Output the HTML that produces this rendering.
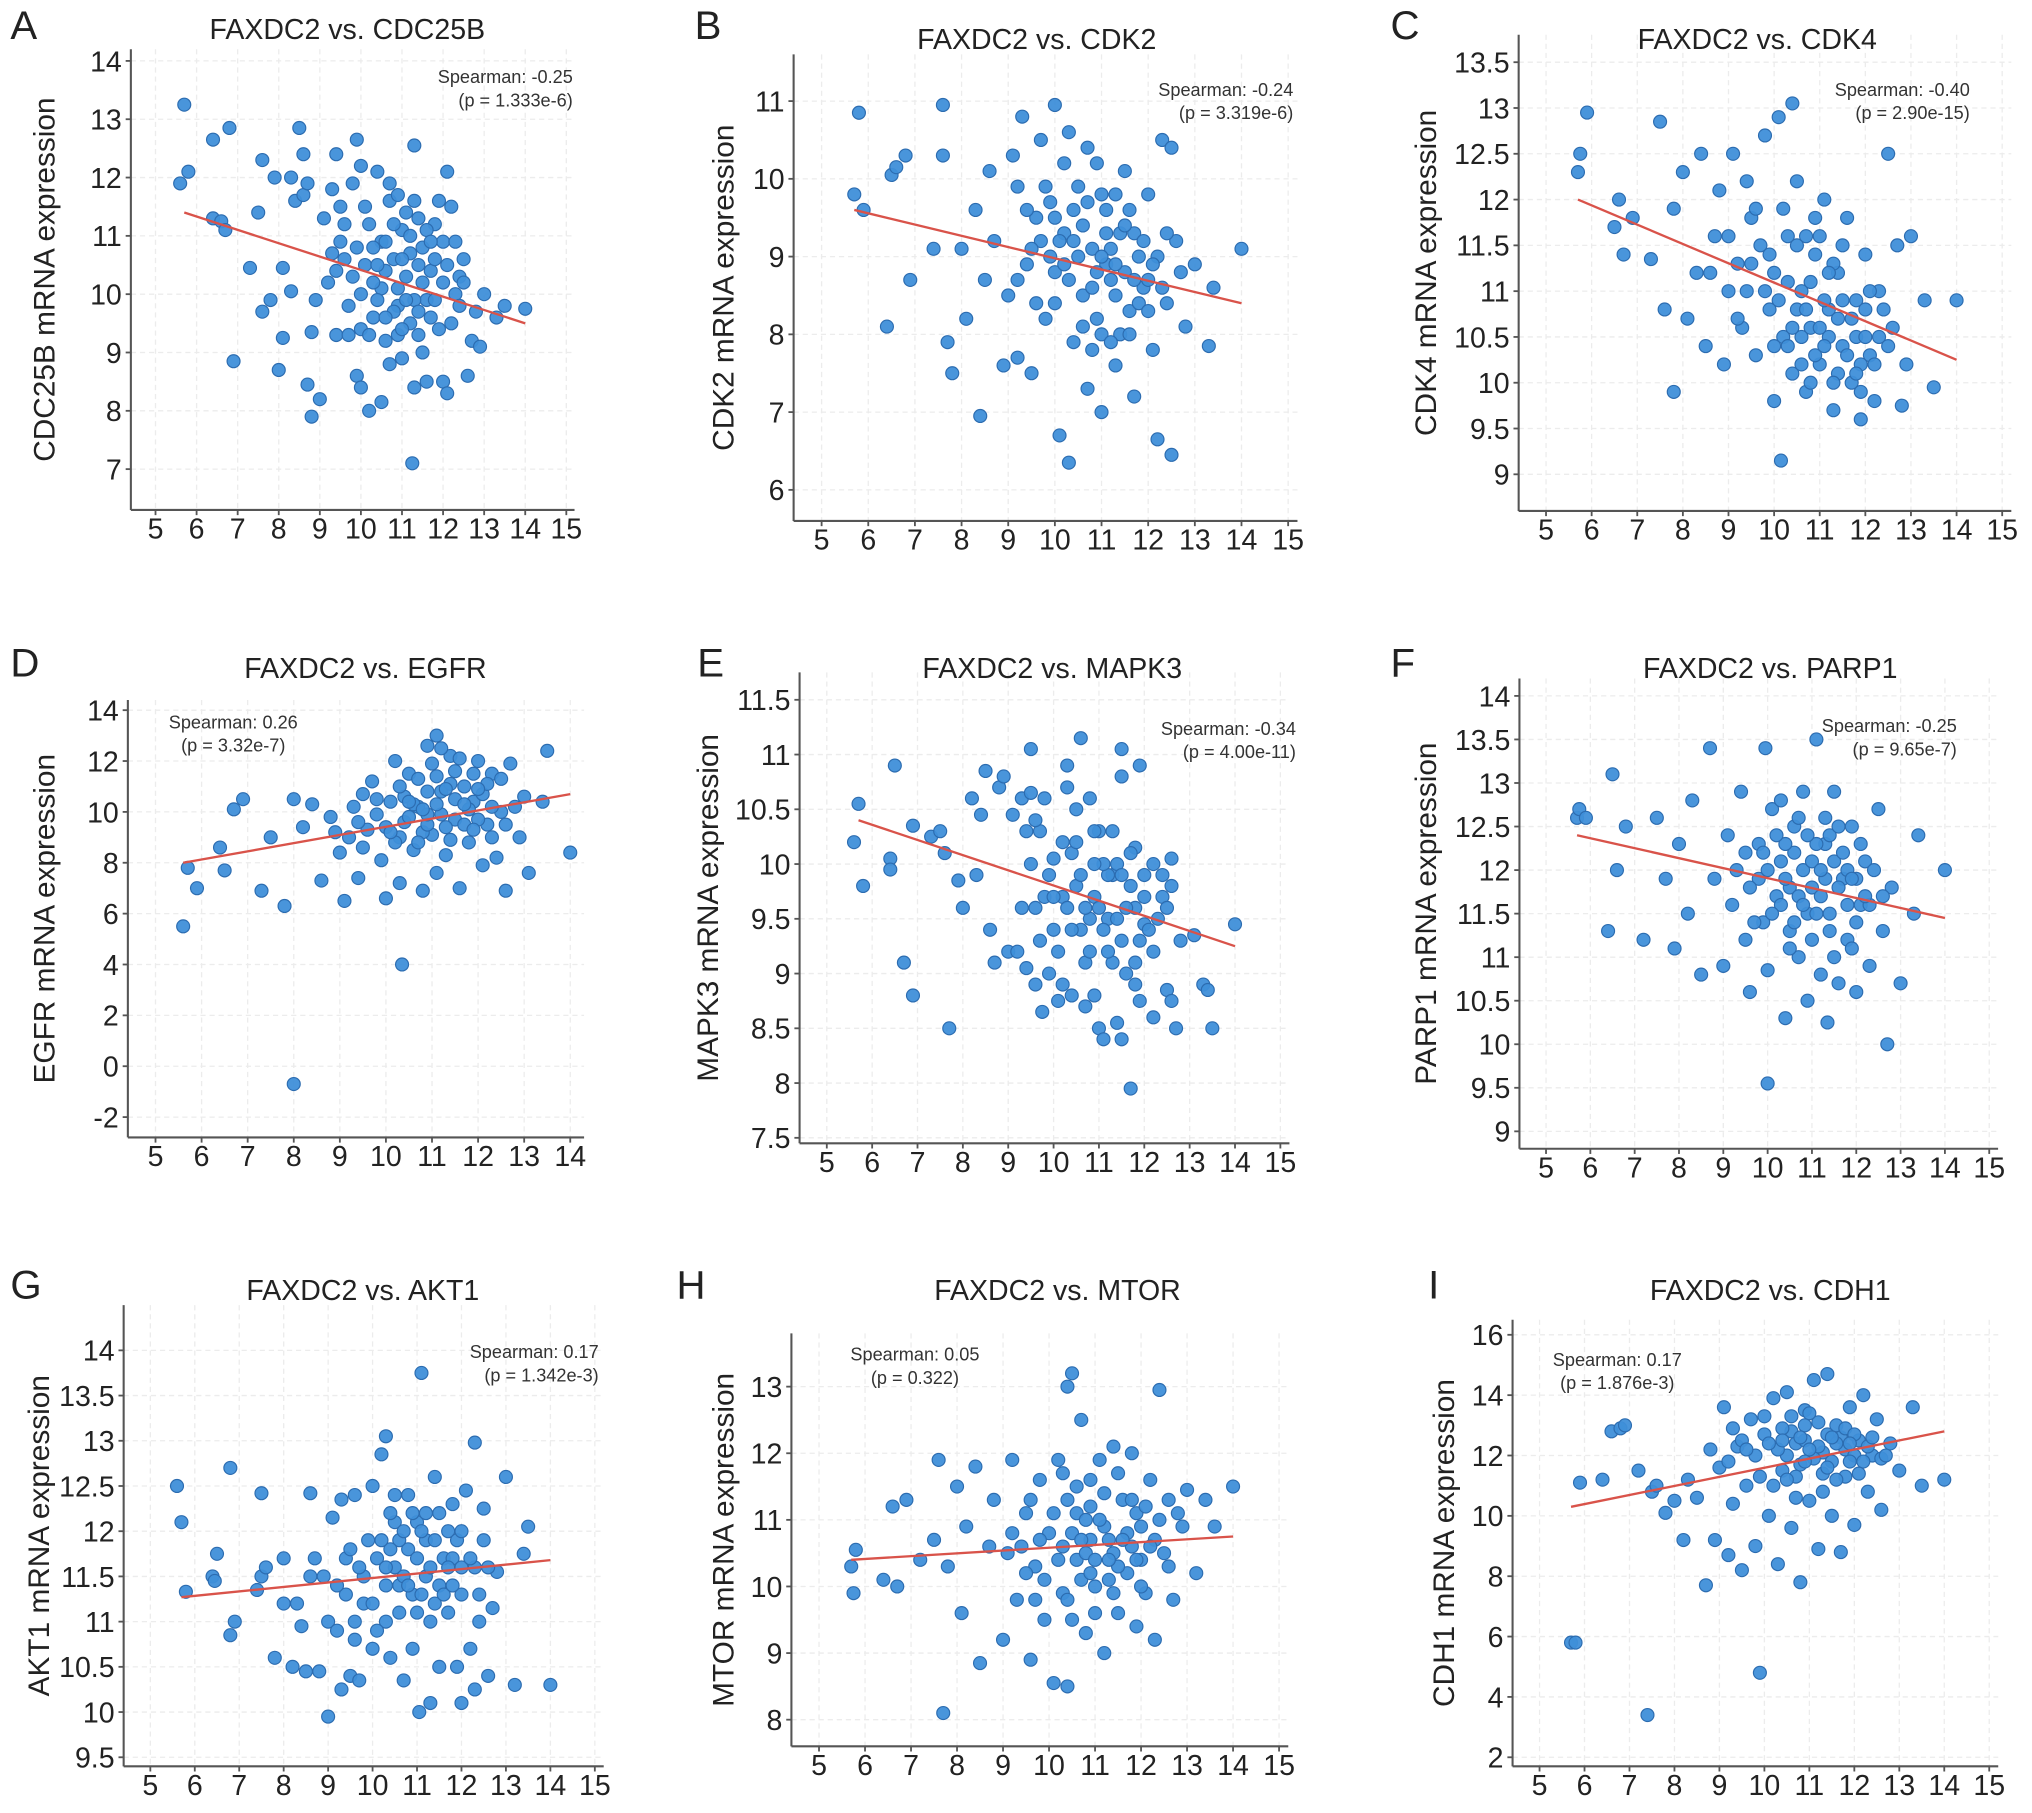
<!DOCTYPE html>
<html><head><meta charset="utf-8">
<style>
html,body{margin:0;padding:0;background:#fff;}
svg{display:block;}
text{font-family:"Liberation Sans",sans-serif;fill:#222;}
.tick{font-size:22px;}
.ttl{font-size:22px;}
.ytitle{font-size:23px;}
.sp{font-size:14px;fill:#333;}
.let{font-size:31px;}
</style></head>
<body>
<svg id="fig" width="2032" height="1813" viewBox="0 0 1568 1399" xmlns="http://www.w3.org/2000/svg"></svg>
<script>
// ---------- data ----------
const aPts=[[5.7,13.25],[5.6,11.9],[5.8,12.1],[6.4,12.65],[6.8,12.85],[6.4,11.3],[6.6,11.25],[6.7,11.1],[6.9,8.85],[7.3,10.45],[7.5,11.4],[7.6,12.3],[7.6,9.7],[7.8,9.9],[7.9,12],[8,8.7],[8.1,10.45],[8.1,9.25],[8.3,12],[8.3,10.05],[8.4,11.6],[8.5,12.85],[8.6,12.4],[8.6,11.7],[8.7,11.9],[8.7,8.45],[8.8,7.9],[8.8,9.35],[8.9,9.9],[9,8.2],[9.1,11.3],[9.2,10.2],[9.3,11.8],[9.4,12.4],[9.4,9.3],[9.5,11.5],[9.6,10.6],[9.7,9.8],[9.8,11.9],[9.9,12.65],[9.9,8.6],[10,12.2],[10,8.4],[10,9.4],[10.1,10.5],[10.2,11.2],[10.2,8],[10.3,9.6],[10.4,12.1],[10.5,10.1],[10.5,8.15],[10.6,9.2],[10.7,11.6],[10.7,8.8],[10.8,10.6],[10.9,9.8],[11,11.1],[11,8.9],[11.1,10.3],[11.2,9.5],[11.25,7.1],[11.3,8.4],[11.3,12.55],[11.4,11.3],[11.5,10.8],[11.6,9.9],[11.6,8.5],[11.7,10.4],[11.8,11.2],[11.9,9.4],[12,8.5],[12,10.9],[12.1,12.1],[12.1,8.3],[12.2,11.5],[12.3,10],[12.4,9.8],[12.5,10.6],[12.6,8.6],[12.7,9.2],[12.8,9.7],[12.9,9.1],[13,10],[13.3,9.6],[13.5,9.8],[14,9.75],[10.5,10.9],[10.8,11.2],[11.2,10.7],[11.5,10.2],[10.9,10.1],[11.3,9.9],[10.6,10.4],[11.8,10.6],[11.1,11.4],[10.3,10.8],[11.7,9.6],[12,10.2],[10.4,9.9],[11.4,9.3],[10.7,11.9],[9.8,10.3],[9.5,10.9],[12.3,10.9],[11.9,11.6],[10.9,9.3]];
const aDense=[[9.3,10.7],[9.6,11.2],[9.9,10.8],[10.1,11.5],[10.3,10.2],[10.6,10.9],[10.8,9.7],[11.0,10.6],[11.2,11.0],[11.4,10.5],[11.6,11.1],[11.8,9.9],[12.1,10.5],[12.4,10.3],[10.2,9.3],[10.6,9.6],[11.0,9.4],[11.4,9.7],[9.7,9.3],[9.4,10.4],[10.9,11.7],[11.3,11.6],[11.7,10.9],[12.2,9.5],[10.4,10.5],[11.1,9.9],[10.0,10.0],[11.5,9.0],[12.5,10.2]];
const bPts=[[5.7,9.8],[5.8,10.85],[5.9,9.6],[6.4,8.1],[6.5,10.05],[6.6,10.15],[6.8,10.3],[6.9,8.7],[7.4,9.1],[7.6,10.95],[7.6,10.3],[7.7,7.9],[7.8,7.5],[8,9.1],[8.1,8.2],[8.3,9.6],[8.4,6.95],[8.5,8.7],[8.6,10.1],[8.7,9.2],[8.9,7.6],[9,8.5],[9.1,10.3],[9.2,7.7],[9.2,9.9],[9.3,10.8],[9.4,8.9],[9.5,7.5],[9.6,9.5],[9.7,10.5],[9.8,8.2],[9.9,9.7],[10,10.95],[10,8.8],[10.1,6.7],[10.2,9.3],[10.3,6.35],[10.3,10.6],[10.4,7.9],[10.5,9.9],[10.6,8.5],[10.7,7.3],[10.8,9.1],[10.9,10.2],[11,8.0],[11,7.0],[11.1,9.6],[11.2,8.7],[11.3,7.6],[11.4,9.3],[11.5,10.1],[11.6,8.3],[11.7,7.2],[11.8,9.0],[11.9,8.6],[12,9.8],[12.1,7.8],[12.2,6.65],[12.3,10.5],[12.4,8.4],[12.5,6.45],[12.5,10.4],[12.6,9.2],[12.8,8.1],[13,8.9],[13.3,7.85],[13.4,8.6],[14,9.1],[10.5,9.0],[10.8,8.6],[11.2,9.1],[11.5,8.8],[10.9,8.2],[11.3,8.5],[10.6,9.4],[11.8,8.4],[11.1,8.9],[10.3,8.7],[11.7,9.3],[12,8.7],[10.4,9.6],[11.4,8.0],[9.9,9.0],[9.6,8.4],[12.2,9.0],[11,9.8],[10.1,9.2],[11.6,9.6]];
const bDense=[[9.4,9.6],[9.7,9.2],[10.0,9.5],[10.2,8.9],[10.4,9.2],[10.7,9.7],[10.9,8.8],[11.1,9.3],[11.3,8.9],[11.5,9.4],[11.7,8.7],[11.9,9.2],[12.1,8.9],[12.3,8.6],[10.6,8.1],[10.8,7.8],[11.2,7.9],[11.6,8.0],[9.8,9.9],[10.2,10.2],[10.7,10.4],[11.3,9.8],[12.4,9.3],[12.7,8.8],[9.2,8.7],[9.5,9.1],[10.0,8.4],[11.0,9.0],[12.0,8.3]];
const cPts=[[5.7,12.3],[5.75,12.5],[5.9,12.95],[6.5,11.7],[6.6,12],[6.7,11.4],[6.9,11.8],[7.3,11.35],[7.5,12.85],[7.6,10.8],[7.8,11.9],[7.8,9.9],[8,12.3],[8.1,10.7],[8.3,11.2],[8.4,12.5],[8.5,10.4],[8.7,11.6],[8.8,12.1],[8.9,10.2],[9,11.0],[9.1,12.5],[9.2,11.3],[9.3,10.6],[9.4,12.2],[9.5,11.8],[9.6,10.3],[9.7,11.5],[9.8,12.7],[9.9,10.8],[10,9.8],[10,11.2],[10.1,12.9],[10.15,9.15],[10.2,10.5],[10.3,11.6],[10.4,13.05],[10.4,10.1],[10.5,12.2],[10.6,11.0],[10.7,9.9],[10.8,10.6],[10.9,11.4],[11,10.2],[11.1,12.0],[11.2,10.8],[11.3,9.7],[11.4,11.2],[11.5,10.4],[11.6,11.8],[11.7,10.0],[11.8,10.9],[11.9,9.6],[12,11.4],[12.1,10.3],[12.2,9.8],[12.3,11.0],[12.5,12.5],[12.6,10.6],[12.7,11.5],[12.8,9.75],[12.9,10.2],[13,11.6],[13.3,10.9],[13.5,9.95],[14,10.9],[10.5,10.8],[10.8,11.1],[11.2,10.5],[11.5,10.9],[10.9,10.3],[11.3,11.3],[10.6,10.5],[11.8,10.5],[11.1,10.9],[10.3,11.1],[11.7,10.7],[12,10.8],[10.4,10.6],[11.4,10.1],[10.7,11.6],[9.8,11.0],[9.5,11.3],[12.3,10.5],[11.9,10.2],[10.9,11.8]];
const cDense=[[9.6,11.9],[9.9,11.4],[10.1,10.9],[10.3,10.4],[10.6,10.2],[10.8,10.0],[11.0,10.6],[11.2,11.2],[11.4,10.7],[11.6,10.3],[11.8,10.1],[12.0,10.5],[12.2,10.2],[12.4,10.8],[10.2,11.9],[10.5,11.5],[11.0,11.6],[11.5,11.5],[9.4,11.0],[9.2,10.7],[10.7,10.8],[11.3,10.0],[11.9,9.9],[12.5,10.4],[11.1,10.4],[10.0,10.4],[12.1,11.0],[9.0,11.6],[8.6,11.2]];
const dPts=[[5.6,5.5],[5.7,7.8],[5.9,7],[6.4,8.6],[6.5,7.7],[6.7,10.1],[6.9,10.5],[7.3,6.9],[7.5,9.0],[7.8,6.3],[8.0,-0.7],[8,10.5],[8.2,9.4],[8.4,10.3],[8.6,7.3],[8.8,9.8],[9,8.4],[9.1,6.5],[9.3,10.2],[9.4,7.4],[9.6,9.3],[9.7,11.2],[9.9,8.1],[10,6.6],[10.1,10.4],[10.2,12.0],[10.3,7.2],[10.35,4.0],[10.4,9.6],[10.5,11.5],[10.6,8.5],[10.7,10.2],[10.8,6.9],[10.9,12.6],[11,9.1],[11.1,13.0],[11.1,7.6],[11.2,10.8],[11.3,8.3],[11.4,12.2],[11.5,9.7],[11.6,7.0],[11.7,11.0],[11.8,8.8],[11.9,10.4],[12,12.0],[12.1,7.9],[12.2,9.5],[12.3,11.5],[12.4,8.2],[12.5,10.0],[12.6,6.9],[12.7,11.9],[12.9,9.0],[13,10.6],[13.1,7.6],[13.4,10.4],[13.5,12.4],[14,8.4],[10.5,9.8],[10.8,9.2],[11.2,9.9],[11.5,10.5],[10.9,10.8],[11.3,9.4],[10.6,10.3],[11.8,10.1],[11.1,11.4],[10.3,9.0],[11.7,9.5],[12,9.7],[10.4,10.6],[11.4,11.1],[10.7,8.8],[9.8,9.9],[9.5,10.7],[12.3,10.2],[11.9,11.5],[10.9,9.5]];
const dDense=[[9.2,9.0],[9.5,8.6],[9.8,10.5],[10.0,9.4],[10.2,8.8],[10.5,10.4],[10.7,11.3],[10.9,9.9],[11.1,10.3],[11.3,10.9],[11.5,11.6],[11.7,10.3],[11.9,9.3],[12.1,10.7],[12.3,9.0],[12.5,11.3],[12.8,10.2],[10.3,11.0],[11.0,11.9],[11.6,12.1],[12.2,11.1],[10.1,9.2],[11.4,8.9],[10.8,10.1],[12.6,9.5],[9.4,9.6],[8.9,9.2],[11.2,12.5],[12.0,10.9]];
const ePts=[[5.6,10.2],[5.7,10.55],[5.8,9.8],[6.4,10.05],[6.4,9.95],[6.5,10.9],[6.7,9.1],[6.9,8.8],[6.9,10.35],[7.3,10.25],[7.5,10.3],[7.6,10.1],[7.7,8.5],[7.9,9.85],[8.0,9.6],[8.2,10.6],[8.3,9.9],[8.4,10.45],[8.5,10.85],[8.6,9.4],[8.7,9.1],[8.8,10.7],[8.9,10.8],[9,9.2],[9.1,10.45],[9.2,9.2],[9.3,10.6],[9.4,9.05],[9.5,10.65],[9.5,11.05],[9.6,8.9],[9.7,10.3],[9.75,8.65],[9.8,10.6],[9.9,9.0],[10,10.05],[10.1,8.75],[10.2,9.7],[10.3,10.9],[10.3,10.7],[10.4,8.8],[10.5,10.5],[10.6,11.15],[10.7,8.7],[10.8,10.6],[10.9,8.8],[11,10.3],[11,8.5],[11.1,8.4],[11.2,9.5],[11.3,9.9],[11.4,8.55],[11.5,10.8],[11.5,11.05],[11.5,8.4],[11.7,7.95],[11.6,9.0],[11.8,10.15],[11.9,10.9],[11.9,8.75],[12,9.45],[12.1,9.4],[12.2,8.6],[12.4,9.9],[12.5,8.85],[12.6,10.05],[12.6,8.75],[12.7,8.5],[12.8,9.3],[13.1,9.35],[13.3,8.9],[13.4,8.85],[13.5,8.5],[14,9.45],[10.5,9.8],[10.8,9.5],[11.2,9.9],[11.5,9.3],[10.9,9.7],[11.3,9.1],[10.6,9.4],[11.8,9.6],[11.1,10.0],[10.3,9.6],[11.7,9.8],[12,9.9],[10.4,10.1],[11.4,9.5],[10.7,9.1],[9.8,9.7],[9.5,10.0],[12.3,9.5],[11.9,9.3],[10.9,10.3],[12.4,9.7],[12.6,9.8],[10,9.4],[9.6,9.6]];
const eDense=[[9.3,9.6],[9.7,9.3],[9.9,9.9],[10.1,9.2],[10.2,10.2],[10.4,9.4],[10.6,9.9],[10.8,9.2],[11.0,9.6],[11.2,9.2],[11.4,10.0],[11.6,9.6],[11.8,9.1],[12.0,9.7],[12.2,9.2],[10.5,10.2],[10.9,10.0],[11.3,10.3],[11.7,10.1],[10.0,9.7],[9.4,10.3],[10.7,9.6],[11.1,9.4],[11.5,9.9],[12.5,9.6],[9.6,10.4],[10.2,8.9],[11.8,8.9],[12.2,10.0]];
const fPts=[[5.7,12.6],[5.75,12.7],[5.9,12.6],[6.4,11.3],[6.5,13.1],[6.6,12.0],[6.8,12.5],[7.2,11.2],[7.5,12.6],[7.7,11.9],[7.9,11.1],[8.0,12.3],[8.2,11.5],[8.3,12.8],[8.5,10.8],[8.7,13.4],[8.8,11.9],[9,10.9],[9.1,12.4],[9.2,11.6],[9.4,12.9],[9.5,11.2],[9.6,10.6],[9.8,12.3],[9.9,11.4],[9.95,13.4],[10.0,9.55],[10,10.85],[10.1,12.7],[10.2,11.7],[10.3,12.1],[10.4,10.3],[10.5,11.3],[10.6,12.5],[10.7,11.0],[10.8,12.9],[10.9,10.5],[11,11.8],[11.1,13.5],[11.2,10.8],[11.3,12.3],[11.35,10.25],[11.4,11.5],[11.5,12.9],[11.6,10.7],[11.7,11.9],[11.8,11.2],[11.9,12.5],[12,10.6],[12.1,11.6],[12.2,12.1],[12.3,10.9],[12.5,12.7],[12.6,11.3],[12.7,10.0],[12.8,11.8],[13,10.7],[13.3,11.5],[13.4,12.4],[14,12.0],[10.5,11.8],[10.8,12.0],[11.2,11.7],[11.5,12.1],[10.9,11.5],[11.3,11.9],[10.6,12.2],[11.8,11.6],[11.1,12.3],[10.3,11.6],[11.7,12.2],[12,11.9],[10.4,12.3],[11.4,11.3],[10.7,11.7],[9.8,11.9],[9.5,12.2],[12.3,11.6],[11.9,11.1],[10.9,12.4]];
const fDense=[[9.3,12.0],[9.6,11.8],[9.9,12.2],[10.1,11.5],[10.2,12.4],[10.4,11.9],[10.6,11.4],[10.8,11.6],[11.0,12.1],[11.2,12.0],[11.4,12.4],[11.6,11.8],[11.8,12.0],[12.0,11.4],[12.2,11.7],[12.4,12.0],[10.5,11.1],[11.0,11.2],[11.5,11.0],[11.9,11.9],[10.7,12.6],[11.3,12.6],[9.7,11.4],[10.0,12.0],[12.6,11.7],[11.6,12.5],[10.3,12.8],[11.1,11.5],[12.1,12.3]];
const gPts=[[5.6,12.5],[5.7,12.1],[5.8,11.33],[6.4,11.5],[6.45,11.45],[6.5,11.75],[6.8,12.7],[6.8,10.85],[6.9,11.0],[7.4,11.35],[7.5,11.5],[7.5,12.42],[7.6,11.6],[7.8,10.6],[8,11.2],[8,11.7],[8.2,10.5],[8.3,11.2],[8.4,10.95],[8.5,10.45],[8.6,11.5],[8.6,12.42],[8.7,11.7],[8.8,10.45],[8.9,11.5],[9.0,9.95],[9,11.0],[9.1,12.15],[9.2,10.9],[9.3,12.35],[9.3,10.25],[9.4,11.7],[9.5,10.4],[9.6,12.4],[9.6,11.0],[9.7,10.35],[9.8,11.2],[10,12.5],[10,10.7],[10.1,11.7],[10.2,12.85],[10.3,13.05],[10.3,11.0],[10.4,10.6],[10.5,12.1],[10.6,11.4],[10.7,10.35],[10.8,12.4],[10.9,10.7],[11,12.1],[11.05,10.0],[11.1,13.75],[11.2,11.5],[11.3,10.1],[11.4,12.6],[11.5,10.5],[11.6,11.7],[11.7,11.1],[11.8,12.3],[11.9,10.5],[12,10.1],[12,11.3],[12.1,12.45],[12.2,10.7],[12.3,10.25],[12.3,12.98],[12.4,11.0],[12.5,12.25],[12.6,10.4],[12.7,11.15],[12.8,11.55],[13,12.6],[13.2,10.3],[13.4,11.75],[13.5,12.05],[14,10.3],[10.5,11.6],[10.8,11.8],[11.2,11.9],[11.5,11.4],[10.9,11.3],[11.3,11.6],[10.6,11.9],[11.8,11.7],[11.1,12.0],[10.3,11.4],[11.7,12.0],[12,11.6],[10.4,11.8],[11.4,11.2],[10.7,11.5],[9.8,11.5],[9.5,11.8],[12.3,11.6],[11.9,11.9],[10.9,12.2]];
const gDense=[[9.4,11.3],[9.7,11.6],[10.0,11.2],[10.2,11.9],[10.4,12.2],[10.6,11.1],[10.8,11.4],[11.0,11.7],[11.2,12.2],[11.4,11.9],[11.6,11.3],[11.8,11.4],[12.0,12.0],[12.2,11.7],[12.4,11.3],[10.5,12.4],[11.0,11.1],[11.5,12.2],[9.9,11.9],[9.2,11.4],[10.1,10.9],[11.3,11.0],[12.5,11.9],[11.7,11.6],[10.7,12.0],[12.6,11.6],[9.6,10.8],[11.1,11.3],[10.3,11.6]];
const hPts=[[5.7,10.3],[5.75,9.9],[5.8,10.55],[6.4,10.1],[6.6,11.2],[6.7,10.0],[6.9,11.3],[7.2,10.4],[7.5,10.7],[7.6,11.9],[7.7,8.1],[7.8,10.3],[8.0,11.5],[8.1,9.6],[8.2,10.9],[8.4,11.8],[8.5,8.85],[8.7,10.6],[8.8,11.3],[9,9.2],[9.1,10.5],[9.2,11.9],[9.3,9.8],[9.5,11.1],[9.6,8.9],[9.7,10.3],[9.8,11.6],[9.9,9.5],[10,10.8],[10.1,8.55],[10.2,11.9],[10.3,9.9],[10.4,8.5],[10.4,13.0],[10.5,13.2],[10.6,10.4],[10.7,12.5],[10.8,9.3],[10.9,11.2],[11,10.0],[11.1,11.9],[11.2,9.0],[11.3,10.7],[11.4,12.1],[11.5,9.6],[11.6,11.3],[11.7,10.2],[11.8,12.0],[11.9,9.4],[12,10.9],[12.1,9.9],[12.2,11.6],[12.3,9.2],[12.4,12.95],[12.5,10.5],[12.6,11.3],[12.7,9.8],[12.9,10.9],[13,11.45],[13.2,10.2],[13.4,11.3],[13.6,10.9],[14,11.5],[10.5,10.8],[10.8,10.5],[11.2,10.9],[11.5,10.3],[10.9,10.7],[11.3,10.1],[10.6,11.1],[11.8,10.6],[11.1,11.0],[10.3,10.6],[11.7,10.8],[12,10.4],[10.4,11.3],[11.4,10.5],[10.7,10.1],[9.8,10.7],[9.5,10.2],[12.3,10.7],[11.9,11.1],[10.9,10.2]];
const hDense=[[9.4,10.6],[9.6,11.3],[9.9,10.1],[10.1,11.1],[10.2,10.4],[10.4,9.8],[10.6,11.5],[10.8,11.0],[11.0,10.4],[11.2,11.4],[11.4,9.9],[11.6,10.7],[11.8,11.3],[12.0,10.0],[12.2,10.6],[12.4,11.0],[10.5,9.5],[11.0,9.6],[11.5,11.7],[12.1,11.2],[10.3,11.7],[10.9,11.6],[9.7,9.8],[12.6,10.3],[11.3,10.4],[10.7,10.7],[12.8,11.1],[9.2,10.8],[11.9,10.4]];
const iPts=[[5.7,5.8],[5.8,5.8],[5.9,11.1],[6.4,11.2],[6.6,12.8],[6.8,12.9],[6.9,13.0],[7.2,11.5],[7.4,3.4],[7.5,10.8],[7.6,11.0],[7.8,10.1],[8,10.5],[8.2,9.2],[8.3,11.2],[8.5,10.6],[8.7,7.7],[8.8,12.2],[8.9,9.2],[9,11.6],[9.1,13.6],[9.2,8.7],[9.3,10.4],[9.4,12.3],[9.5,8.2],[9.6,11.0],[9.7,13.2],[9.8,9.0],[9.9,4.8],[10,12.7],[10.1,10.0],[10.2,13.9],[10.3,8.4],[10.4,11.5],[10.5,14.1],[10.6,9.6],[10.7,12.4],[10.8,7.8],[10.9,13.5],[11,10.5],[11.1,14.5],[11.2,8.9],[11.3,12.1],[11.4,14.7],[11.5,10.0],[11.6,13.0],[11.7,8.8],[11.8,11.3],[11.9,13.6],[12,9.7],[12.1,12.5],[12.2,14.0],[12.3,10.8],[12.4,12.0],[12.5,13.2],[12.6,10.2],[12.8,12.4],[13,11.5],[13.3,13.6],[13.5,11.0],[14,11.2],[10.5,12.0],[10.8,11.7],[11.2,12.3],[11.5,11.8],[10.9,12.5],[11.3,11.4],[10.6,12.8],[11.8,12.2],[11.1,11.9],[10.3,12.2],[11.7,12.6],[12,12.0],[10.4,12.9],[11.4,12.7],[10.7,11.3],[9.8,12.0],[9.5,12.5],[12.3,12.3],[11.9,11.8],[10.9,13.0]];
const iDense=[[9.3,12.9],[9.6,12.2],[9.9,11.3],[10.1,12.4],[10.2,11.0],[10.4,12.5],[10.6,13.3],[10.8,12.6],[11.0,12.2],[11.2,13.1],[11.4,11.6],[11.6,12.4],[11.8,12.9],[12.0,12.7],[12.2,11.8],[12.4,12.6],[12.6,11.9],[10.5,11.2],[11.0,13.4],[11.5,12.6],[11.9,12.4],[10.0,13.3],[9.2,11.8],[12.7,12.0],[11.3,10.8],[10.7,10.6],[12.1,11.4],[10.9,11.8],[11.6,11.2]];
// regression endpoints [x0,y0,x1,y1]
const fitA=[5.7,11.4,14,9.5], fitB=[5.7,9.6,14,8.4], fitC=[5.7,12.0,14,10.25];
const fitD=[5.6,8.0,14,10.7], fitE=[5.7,10.4,14,9.25], fitF=[5.7,12.4,14,11.45];
const fitG=[5.7,11.27,14,11.68], fitH=[5.7,10.4,14,10.75], fitI=[5.7,10.3,14,12.8];
const xTicks=[5,6,7,8,9,10,11,12,13,14,15];
const xTicksD=[5,6,7,8,9,10,11,12,13,14];
const yTicksA=[7,8,9,10,11,12,13,14], yTicksB=[6,7,8,9,10,11];
const yTicksC=[9,9.5,10,10.5,11,11.5,12,12.5,13,13.5];
const yTicksD=[-2,0,2,4,6,8,10,12,14];
const yTicksE=[7.5,8,8.5,9,9.5,10,10.5,11,11.5];
const yTicksF=[9,9.5,10,10.5,11,11.5,12,12.5,13,13.5,14];
const yTicksG=[9.5,10,10.5,11,11.5,12,12.5,13,13.5,14];
const yTicksH=[8,9,10,11,12,13];
const yTicksI=[2,4,6,8,10,12,14,16];

// ---------- layout ----------
const panels=[
 {id:'a',L:'A',gene:'CDC25B',pts:aPts.concat(aDense),fit:fitA,xt:xTicks,yt:yTicksA,x5:120,x15:437,ya:14,yap:47,yb:7,ybp:362,ylo:6.3,yhi:14.2,xhi:15.2,lx:8,ly:30,tx:268,ty:30,sp:'Spearman: -0.25',pv:'(p = 1.333e-6)',sx:442,sy:64,anchor:'end',yx:42},
 {id:'b',L:'B',gene:'CDK2',pts:bPts.concat(bDense),fit:fitB,xt:xTicks,yt:yTicksB,x5:634,x15:994,ya:11,yap:78,yb:6,ybp:378,ylo:5.6,yhi:11.6,xhi:15.2,lx:536,ly:30,tx:800,ty:38,sp:'Spearman: -0.24',pv:'(p = 3.319e-6)',sx:998,sy:74,anchor:'end',yx:566},
 {id:'c',L:'C',gene:'CDK4',pts:cPts.concat(cDense),fit:fitC,xt:xTicks,yt:yTicksC,x5:1193,x15:1545,ya:13.5,yap:48,yb:9,ybp:366,ylo:8.6,yhi:13.8,xhi:15.2,lx:1073,ly:30,tx:1356,ty:38,sp:'Spearman: -0.40',pv:'(p = 2.90e-15)',sx:1520,sy:74,anchor:'end',yx:1108},
 {id:'d',L:'D',gene:'EGFR',pts:dPts.concat(dDense),fit:fitD,xt:xTicksD,yt:yTicksD,x5:120,x15:475.6,ya:14,yap:548,yb:-2,ybp:862,ylo:-2.8,yhi:14.4,xhi:14.3,lx:8,ly:522,tx:282,ty:523,sp:'Spearman: 0.26',pv:'(p = 3.32e-7)',sx:180,sy:562,anchor:'middle',yx:42},
 {id:'e',L:'E',gene:'MAPK3',pts:ePts.concat(eDense),fit:fitE,xt:xTicks,yt:yTicksE,x5:638,x15:988,ya:11.5,yap:540,yb:7.5,ybp:878,ylo:7.45,yhi:11.75,xhi:15.2,lx:538,ly:522,tx:812,ty:523,sp:'Spearman: -0.34',pv:'(p = 4.00e-11)',sx:1000,sy:567,anchor:'end',yx:554},
 {id:'f',L:'F',gene:'PARP1',pts:fPts.concat(fDense),fit:fitF,xt:xTicks,yt:yTicksF,x5:1193,x15:1535,ya:14,yap:537,yb:9,ybp:873,ylo:8.8,yhi:14.2,xhi:15.2,lx:1073,ly:522,tx:1366,ty:523,sp:'Spearman: -0.25',pv:'(p = 9.65e-7)',sx:1510,sy:565,anchor:'end',yx:1108},
 {id:'g',L:'G',gene:'AKT1',pts:gPts.concat(gDense),fit:fitG,xt:xTicks,yt:yTicksG,x5:116,x15:459,ya:14,yap:1042,yb:9.5,ybp:1356,ylo:9.4,yhi:14.5,xhi:15.2,lx:8,ly:1002,tx:280,ty:1003,sp:'Spearman: 0.17',pv:'(p = 1.342e-3)',sx:462,sy:1048,anchor:'end',yx:38},
 {id:'h',L:'H',gene:'MTOR',pts:hPts.concat(hDense),fit:fitH,xt:xTicks,yt:yTicksH,x5:632,x15:987,ya:13,yap:1070,yb:8,ybp:1327,ylo:7.6,yhi:13.8,xhi:15.2,lx:522,ly:1002,tx:816,ty:1003,sp:'Spearman: 0.05',pv:'(p = 0.322)',sx:706,sy:1050,anchor:'middle',yx:566},
 {id:'i',L:'I',gene:'CDH1',pts:iPts.concat(iDense),fit:fitI,xt:xTicks,yt:yTicksI,x5:1188,x15:1535,ya:16,yap:1030,yb:2,ybp:1356,ylo:1.7,yhi:16.5,xhi:15.2,lx:1102,ly:1002,tx:1366,ty:1003,sp:'Spearman: 0.17',pv:'(p = 1.876e-3)',sx:1248,sy:1054,anchor:'middle',yx:1122}
];
const NS='http://www.w3.org/2000/svg';
const svg=document.getElementById('fig');
function mk(tag,attrs,parent,txt){const e=document.createElementNS(NS,tag);for(const k in attrs)e.setAttribute(k,attrs[k]);if(txt!==undefined)e.textContent=txt;(parent||svg).appendChild(e);return e;}
panels.forEach(p=>{
  const xs=v=>p.x5+(v-5)*(p.x15-p.x5)/10;
  const ys=v=>p.yap+(v-p.ya)*(p.ybp-p.yap)/(p.yb-p.ya);
  const g=mk('g',{});
  
  
  const axL=xs(4.4), axR=xs(p.xhi), axT=ys(p.yhi), axB=ys(p.ylo);
  p.xt.forEach(t=>{const l=mk('line',{x1:xs(t),x2:xs(t),y1:axT,y2:axB,stroke:'#ececec','stroke-width':1,'stroke-dasharray':'4,3'},g);
    });
  p.yt.forEach(t=>{const l=mk('line',{x1:axL,x2:axR,y1:ys(t),y2:ys(t),stroke:'#ececec','stroke-width':1,'stroke-dasharray':'4,3'},g);
    });
  const ya=mk('line',{x1:axL,x2:axL,y1:axT,y2:axB,stroke:'#555','stroke-width':1.6},g);
  
  const xa=mk('line',{x1:axL,x2:axR,y1:axB,y2:axB,stroke:'#555','stroke-width':1.6},g);
  
  p.xt.forEach(t=>{mk('line',{x1:xs(t),x2:xs(t),y1:axB,y2:axB+4,stroke:'#555','stroke-width':1.4},g);
    const tx=mk('text',{x:xs(t),y:axB+22,'text-anchor':'middle',class:'tick'},g,String(t));
    });
  p.yt.forEach(t=>{mk('line',{x1:axL-4,x2:axL,y1:ys(t),y2:ys(t),stroke:'#555','stroke-width':1.4},g);
    const tx=mk('text',{x:axL-7,y:ys(t)+8,'text-anchor':'end',class:'tick'},g,String(t));
    });
  p.pts.forEach(d=>{const c=mk('circle',{cx:xs(d[0]),cy:ys(d[1]),r:5,fill:'#3f8fd9',stroke:'#2c6cb0','stroke-width':0.9,'fill-opacity':0.95},g);
    });
  const f=p.fit;
  const ln=mk('line',{x1:xs(f[0]),y1:ys(f[1]),x2:xs(f[2]),y2:ys(f[3]),stroke:'#d9534a','stroke-width':1.8},g);
  
  const let_=mk('text',{x:p.lx,y:p.ly,class:'let'},g,p.L);
  
  const tt=mk('text',{x:p.tx,y:p.ty,'text-anchor':'middle',class:'ttl'},g,'FAXDC2 vs. '+p.gene);
  
  const cy=(axT+axB)/2;
  const yt=mk('text',{x:p.yx,y:cy,'text-anchor':'middle',class:'ytitle',transform:'rotate(-90 '+p.yx+' '+cy+')'},g,p.gene+' mRNA expression');
  
  const s1=mk('text',{x:p.sx,y:p.sy,'text-anchor':p.anchor,class:'sp'},g,p.sp);
  
  const s2=mk('text',{x:p.sx,y:p.sy+18,'text-anchor':p.anchor,class:'sp'},g,p.pv);
  
});
</script>
</body></html>
